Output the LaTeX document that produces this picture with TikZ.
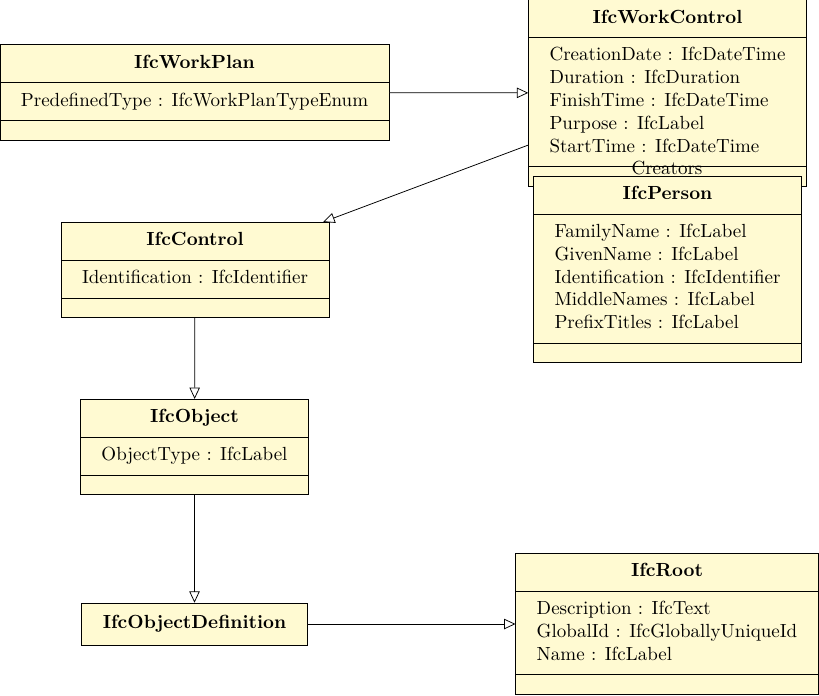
\documentclass[tikz,border=0pt]{standalone}
\usepackage{tikz}
\usepackage{amsmath}
\usepackage{xcolor}
\usetikzlibrary{shapes.multipart,arrows.meta}

\definecolor{classfill}{RGB}{255,250,210}
\newcommand{\attrs}[1]{\begin{tabular}{@{}l@{}}#1\end{tabular}}
\newcommand{\cname}[1]{\strut\textbf{#1}}
\newcommand{\noops}{\phantom{\rule{0.01pt}{2.5pt}}}

\begin{document}
\begin{tikzpicture}[x=0.5263pt, y=-0.5263pt,
    umlclass/.style={draw, fill=classfill, rectangle split, rectangle split parts=3,
        rectangle split part align={center,left,left},
        inner xsep=11pt, inner ysep=3.75pt},
    umlplain/.style={draw, fill=classfill, rectangle, inner xsep=11pt, minimum height=22pt},
    inherit/.style={-{Triangle[open, length=6pt, width=5.5pt]}, fill=white}]
    \useasboundingbox (0,0) rectangle (819,695);
    % Classes
    \node[umlclass] (workplan) at (194.5,92.5) {\cname{IfcWorkPlan}
        \nodepart{two}\attrs{PredefinedType : IfcWorkPlanTypeEnum}
        \nodepart{three}\noops};
    \node[umlclass] (workcontrol) at (667.5,93) {\cname{IfcWorkControl}
        \nodepart{two}\attrs{CreationDate : IfcDateTime\\Duration : IfcDuration\\FinishTime : IfcDateTime\\Purpose : IfcLabel\\StartTime : IfcDateTime}
        \nodepart{three}\noops};
    \node (creators) at (667,168) {Creators};
    \node[umlclass] (person) at (667.5,269.5) {\cname{IfcPerson}
        \nodepart{two}\attrs{FamilyName : IfcLabel\\GivenName : IfcLabel\\Identification : IfcIdentifier\\MiddleNames : IfcLabel\\PrefixTitles : IfcLabel}
        \nodepart{three}\noops};
    \node[umlclass] (control) at (195,270) {\cname{IfcControl}
        \nodepart{two}\attrs{Identification : IfcIdentifier}
        \nodepart{three}\noops};
    \node[umlclass] (object) at (194.5,447) {\cname{IfcObject}
        \nodepart{two}\attrs{ObjectType : IfcLabel}
        \nodepart{three}\noops};
    \node[umlplain] (objdef) at (194.5,624) {\textbf{IfcObjectDefinition}};
    \node[umlclass] (root) at (667,624) {\cname{IfcRoot}
        \nodepart{two}\attrs{Description : IfcText\\GlobalId : IfcGloballyUniqueId\\Name : IfcLabel}
        \nodepart{three}\noops};

    % Inheritance
    \draw[inherit] (workplan) -- (workcontrol);
    \draw[inherit] (workcontrol) -- (control);
    \draw[inherit] (control) -- (object);
    \draw[inherit] (object) -- (objdef);
    \draw[inherit] (objdef) -- (root);
\end{tikzpicture}
\end{document}
